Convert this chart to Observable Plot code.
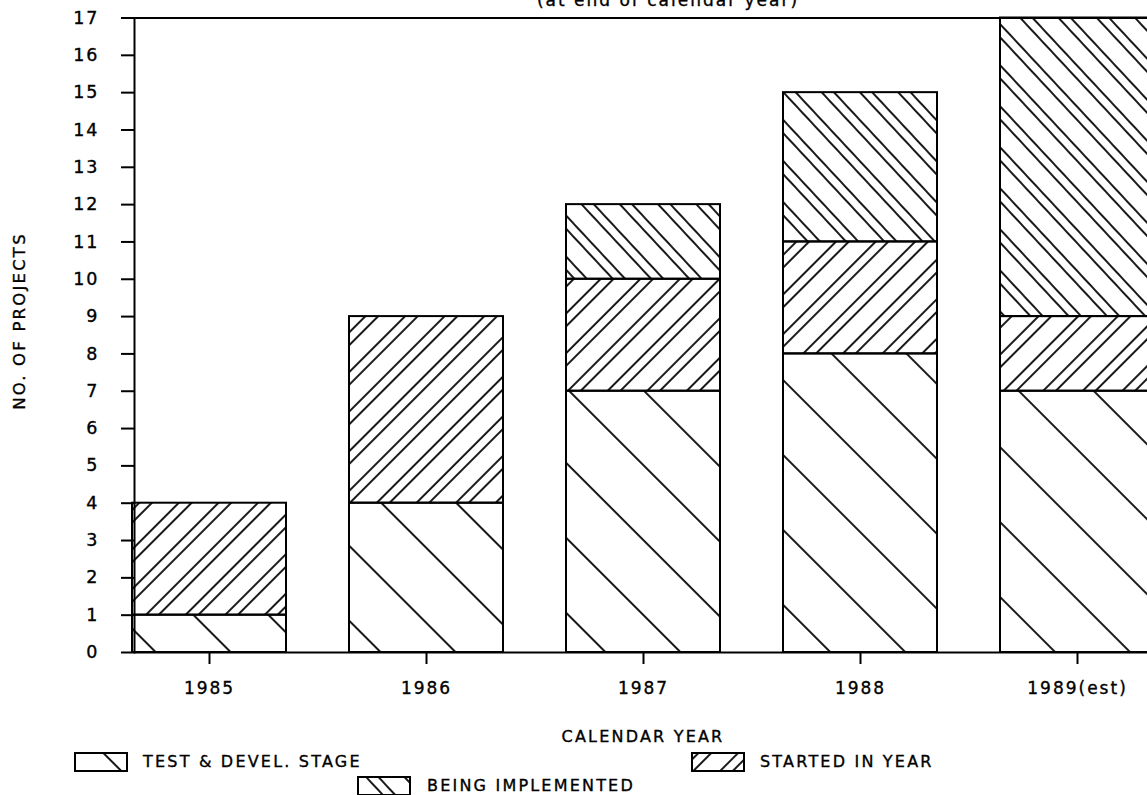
<!DOCTYPE html>
<html><head><meta charset="utf-8">
<script src="https://cdn.jsdelivr.net/npm/d3@7"></script>
<script src="https://cdn.jsdelivr.net/npm/@observablehq/plot@0.6"></script>
<style>
html,body{margin:0;padding:0;background:#fff;overflow:hidden;width:1147px;height:795px;}
#wrap{position:relative;width:1147px;height:795px;font-family:"DejaVu Sans",sans-serif;color:#000;overflow:hidden;}
#wrap svg text{letter-spacing:2px;stroke:#000;stroke-width:0.35px;}
.lbl{position:absolute;font-size:16px;letter-spacing:2.2px;white-space:nowrap;line-height:1;-webkit-text-stroke:0.35px #000;}
.sw{position:absolute;}
</style></head><body><div id="wrap"></div>
<script>
const years = ["1985", "1986", "1987", "1988", "1989(est)"];
const categories = ["TEST & DEVEL. STAGE", "STARTED IN YEAR", "BEING IMPLEMENTED"];
const testDevel = [1, 4, 7, 8, 7];
const startedInYear = [3, 5, 3, 3, 2];
const beingImplemented = [0, 0, 2, 4, 8];
const yTicks = d3.range(0, 18);
const subtitle = "(at end of calendar year)";
const xTitle = "CALENDAR YEAR";
const yTitle = "NO. OF PROJECTS";

const series = [testDevel, startedInYear, beingImplemented];
const data = [];
years.forEach((yr, i) => categories.forEach((c, j) => {
  if (series[j][i] > 0) data.push({year: yr, cat: c, value: series[j][i]});
}));

const wrap = document.getElementById("wrap");
const ns = "http://www.w3.org/2000/svg";
const patternDefs = `
<pattern id="hTest" patternUnits="userSpaceOnUse" width="53" height="53" patternTransform="rotate(-45)">
  <line x1="20" y1="-5" x2="20" y2="60" stroke="#000" stroke-width="1.8"/></pattern>
<pattern id="hStart" patternUnits="userSpaceOnUse" width="28" height="28" patternTransform="rotate(45)">
  <line x1="6" y1="-5" x2="6" y2="35" stroke="#000" stroke-width="1.8"/>
  <line x1="15" y1="-5" x2="15" y2="35" stroke="#000" stroke-width="1.8"/></pattern>
<pattern id="hImpl" patternUnits="userSpaceOnUse" width="28" height="28" patternTransform="rotate(-43)">
  <line x1="6" y1="-5" x2="6" y2="35" stroke="#000" stroke-width="1.8"/>
  <line x1="15" y1="-5" x2="15" y2="35" stroke="#000" stroke-width="1.8"/></pattern>`;

const plot = Plot.plot({
  width: 1147,
  height: 700,
  marginLeft: 134,
  marginRight: 0,
  marginTop: 17.5,
  marginBottom: 48,
  style: {fontFamily: "DejaVu Sans, sans-serif", fontSize: "17px", color: "#000", background: "transparent"},
  x: {type: "band", domain: years, range: [100.5, 1185.5], paddingInner: 0.29, paddingOuter: 0.145, label: null},
  y: {domain: [0, 17], label: null},
  color: {domain: categories, range: ["url(#hTest)", "url(#hStart)", "url(#hImpl)"]},
  marks: [
    Plot.barY(data, Plot.stackY({x: "year", y: "value", fill: "cat", order: categories, stroke: "#000", strokeWidth: 2})),
    Plot.ruleY([0, 17], {stroke: "#000", strokeWidth: 2}),
    Plot.frame({anchor: "left", stroke: "#000", strokeWidth: 2}),
    Plot.axisY({ticks: yTicks, tickSize: 13, tickPadding: 22, tickFormat: d => String(d), strokeWidth: 2, fontSize: 17.5, label: null}),
    Plot.axisX({tickSize: 12, tickPadding: 17, strokeWidth: 2, fontSize: 17, label: null})
  ]
});
const defs = document.createElementNS(ns, "defs");
defs.innerHTML = patternDefs;
plot.insertBefore(defs, plot.firstChild);
plot.style.position = "absolute";
plot.style.left = "0px";
plot.style.top = "0px";
wrap.appendChild(plot);

function label(text, left, top, opts = {}) {
  const d = document.createElement("div");
  d.className = "lbl";
  d.textContent = text;
  d.style.left = left + "px";
  d.style.top = top + "px";
  Object.assign(d.style, opts);
  wrap.appendChild(d);
  return d;
}
function swatch(fillId, left, top) {
  const s = document.createElementNS(ns, "svg");
  s.setAttribute("width", 54); s.setAttribute("height", 20);
  s.setAttribute("class", "sw");
  s.style.left = left + "px"; s.style.top = top + "px";
  const r = document.createElementNS(ns, "rect");
  r.setAttribute("x", 1); r.setAttribute("y", 1); r.setAttribute("width", 52); r.setAttribute("height", 18);
  r.setAttribute("fill", `url(#${fillId})`); r.setAttribute("stroke", "#000"); r.setAttribute("stroke-width", 2);
  s.appendChild(r);
  wrap.appendChild(s);
}

label(subtitle, 668, -8.4, {fontSize: "17px", letterSpacing: "2px", transform: "translateX(-50%)"});
label(xTitle, 643, 729, {transform: "translateX(-50%)"});
label(yTitle, 20, 321, {transform: "translate(-50%,-50%) rotate(-90deg)", fontSize: "16.5px"});
swatch("hTest", 74, 752);
label(categories[0], 143, 754);
swatch("hStart", 691, 752);
label(categories[1], 760, 754);
swatch("hImpl", 357, 776);
label(categories[2], 427, 778);
</script></body></html>
